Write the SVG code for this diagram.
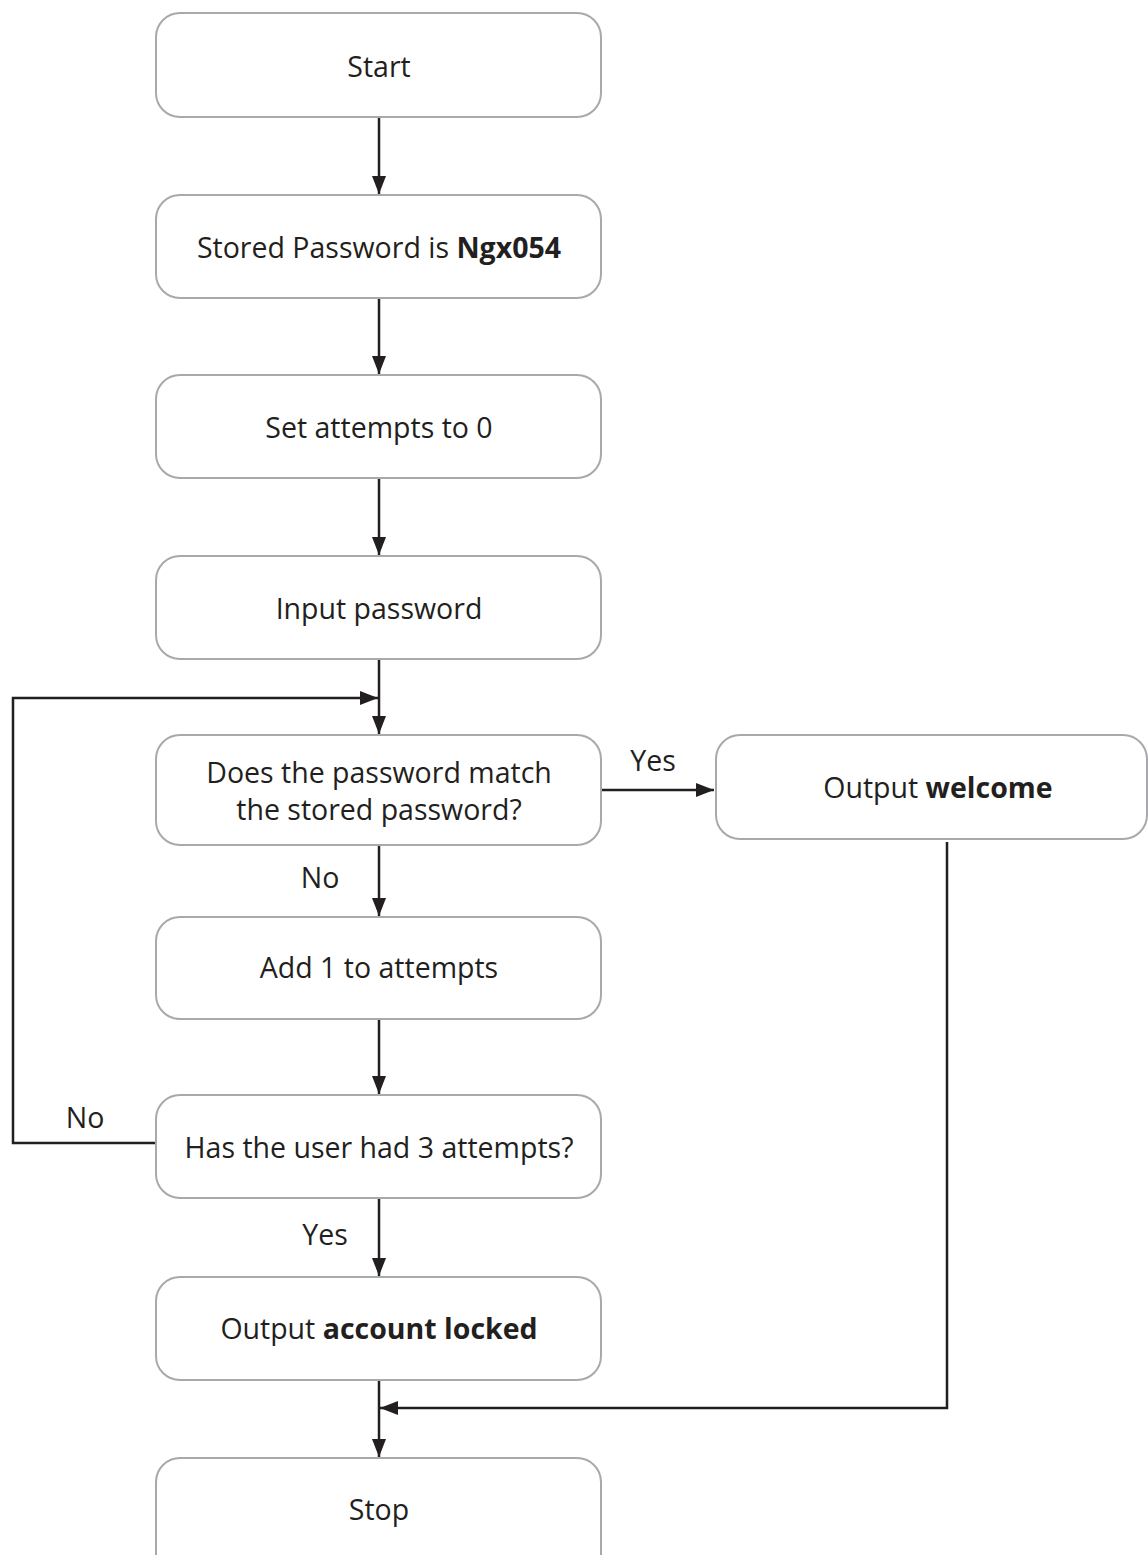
<svg xmlns="http://www.w3.org/2000/svg" width="1148" height="1555" viewBox="0 0 1148 1555">
<defs>
<style>
.box{fill:#fff;stroke:#a7a9ac;stroke-width:2}
.t{font-family:"Open Sans","Noto Sans",sans-serif;font-size:28.5px;fill:#231f20;text-anchor:middle}
.b{font-weight:bold}
.c{fill:none;stroke:#231f20;stroke-width:2.5}
</style>
<marker id="ah" markerWidth="18" markerHeight="14" refX="18" refY="7" orient="auto" markerUnits="userSpaceOnUse">
<path d="M0,0 L18,7 L0,14 Z" fill="#231f20"/>
</marker>
</defs>
<rect width="1148" height="1555" fill="#fff"/>
<g id="connectors">
<line class="c" x1="379" y1="118" x2="379" y2="194" marker-end="url(#ah)"/>
<line class="c" x1="379" y1="299" x2="379" y2="374" marker-end="url(#ah)"/>
<line class="c" x1="379" y1="479" x2="379" y2="555" marker-end="url(#ah)"/>
<line class="c" x1="379" y1="660" x2="379" y2="734" marker-end="url(#ah)"/>
<polyline class="c" points="156,1143 13,1143 13,698 378,698" marker-end="url(#ah)"/>
<line class="c" x1="602" y1="790" x2="714" y2="790" marker-end="url(#ah)"/>
<line class="c" x1="379" y1="846" x2="379" y2="916" marker-end="url(#ah)"/>
<line class="c" x1="379" y1="1020" x2="379" y2="1094" marker-end="url(#ah)"/>
<line class="c" x1="379" y1="1199" x2="379" y2="1276" marker-end="url(#ah)"/>
<line class="c" x1="379" y1="1381" x2="379" y2="1457" marker-end="url(#ah)"/>
<polyline class="c" points="947,842 947,1408 380,1408" marker-end="url(#ah)"/>
<text class="t" x="653" y="771">Yes</text>
<text class="t" x="320" y="888">No</text>
<text class="t" x="85" y="1128">No</text>
<text class="t" x="325" y="1245">Yes</text>
</g>
<g id="start"><rect class="box" x="156" y="13" width="445" height="104" rx="24"/><text class="t" x="379" y="77">Start</text></g>
<g id="stored"><rect class="box" x="156" y="195" width="445" height="103" rx="24"/><text class="t" x="379" y="258">Stored Password is <tspan class="b">Ngx054</tspan></text></g>
<g id="setattempts"><rect class="box" x="156" y="375" width="445" height="103" rx="24"/><text class="t" x="379" y="438">Set attempts to 0</text></g>
<g id="input"><rect class="box" x="156" y="556" width="445" height="103" rx="24"/><text class="t" x="379" y="619">Input password</text></g>
<g id="match"><rect class="box" x="156" y="735" width="445" height="110" rx="24"/><text class="t" x="379" y="783">Does the password match</text><text class="t" x="379" y="820">the stored password?</text></g>
<g id="welcome"><rect class="box" x="716" y="735" width="431" height="104" rx="24"/><text class="t" x="938" y="798">Output <tspan class="b">welcome</tspan></text></g>
<g id="add"><rect class="box" x="156" y="917" width="445" height="102" rx="24"/><text class="t" x="379" y="978">Add 1 to attempts</text></g>
<g id="has3"><rect class="box" x="156" y="1095" width="445" height="103" rx="24"/><text class="t" x="379" y="1158">Has the user had 3 attempts?</text></g>
<g id="locked"><rect class="box" x="156" y="1277" width="445" height="103" rx="24"/><text class="t" x="379" y="1339">Output <tspan class="b">account locked</tspan></text></g>
<g id="stop"><rect class="box" x="156" y="1458" width="445" height="120" rx="24"/><text class="t" x="379" y="1520">Stop</text></g>
</svg>
